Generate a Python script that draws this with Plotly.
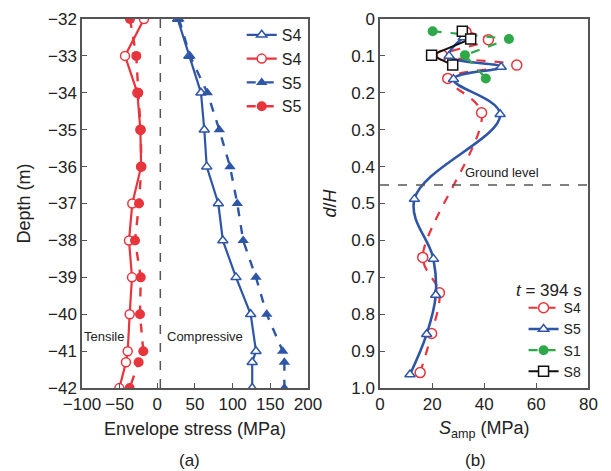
import plotly.graph_objects as go

# ---------------- Panel (a) data ----------------
depth = [-32, -33, -34, -35, -36, -37, -38, -39, -40, -41, -41.3, -42]
s4_comp = [27, 42, 58, 62.4, 65.6, 81, 87, 104.5, 124, 131, 126, 126]
s5_comp = [28.8, 43.4, 66.4, 82.3, 96.5, 106.2, 114, 131, 145.3, 166.5, 168.7, 168.7]
s4_tens = [-17.7, -42.9, -26.5, -22.5, -21.5, -33.2, -37.6, -33.6, -36.7, -39.3, -41.6, -50.4]
s5_tens = [-36.3, -27.9, -25.2, -22.0, -21.2, -24.3, -29.6, -22.0, -23.0, -18.6, -24.8, -36.7]
zero_line = 4

# ---------------- Panel (b) data ----------------
s4_d = [0.035, 0.056, 0.098, 0.125, 0.161, 0.254, 0.646, 0.742, 0.852, 0.958]
s4_s = [33.0, 41.6, 23.9, 52.5, 26.0, 39.0, 16.4, 22.8, 19.8, 15.4]
s5_d = [0.05, 0.10, 0.13, 0.163, 0.258, 0.488, 0.65, 0.748, 0.854, 0.963]
s5_s = [32.0, 26.5, 46.5, 28.2, 46.1, 13.2, 20.5, 21.4, 17.9, 11.5]
s1_d = [0.033, 0.054, 0.098, 0.161]
s1_s = [20.2, 49.5, 32.6, 40.6]
s8_d = [0.033, 0.054, 0.098, 0.125]
s8_s = [31.6, 34.8, 19.8, 27.9]
ground_level = 0.45
yb_ticks = [0, 0.1, 0.2, 0.3, 0.4, 0.5, 0.6, 0.7, 0.8, 0.9, 1.0]
yb_labels = ["0", "0.1", "0.2", "0.3", "0.4", "0.5", "0.6", "0.7", "0.8", "0.9", "1.0"]

RED = "#e8343c"
BLUE = "#2f56a6"
GREEN = "#2fa84a"
BLACK = "#111111"
FONT = "Liberation Sans, Arial, sans-serif"

fig = go.Figure()

# Panel (a)
fig.add_trace(go.Scatter(x=s4_comp, y=depth, name="S4", mode="lines+markers",
    line=dict(color=BLUE, width=2.2),
    marker=dict(symbol="triangle-up", size=9, color="white", line=dict(color=BLUE, width=1.5)),
    xaxis="x", yaxis="y", legend="legend"))
fig.add_trace(go.Scatter(x=s4_tens, y=depth, name="S4", mode="lines+markers",
    line=dict(color=RED, width=2.2),
    marker=dict(symbol="circle", size=9, color="white", line=dict(color=RED, width=1.5)),
    xaxis="x", yaxis="y", legend="legend"))
fig.add_trace(go.Scatter(x=s5_comp, y=depth, name="S5", mode="lines+markers",
    line=dict(color=BLUE, width=2.4, dash="dash"),
    marker=dict(symbol="triangle-up", size=10, color=BLUE),
    xaxis="x", yaxis="y", legend="legend"))
fig.add_trace(go.Scatter(x=s5_tens, y=depth, name="S5", mode="lines+markers",
    line=dict(color=RED, width=2.4, dash="dash"),
    marker=dict(symbol="circle", size=10, color=RED),
    xaxis="x", yaxis="y", legend="legend"))

# Panel (b)
fig.add_trace(go.Scatter(x=s4_s, y=s4_d, name="S4", mode="lines+markers",
    line=dict(color=RED, width=2.2, dash="dash", shape="spline", smoothing=0.9),
    marker=dict(symbol="circle", size=10, color="white", line=dict(color=RED, width=1.5)),
    xaxis="x2", yaxis="y2", legend="legend2"))
fig.add_trace(go.Scatter(x=s5_s, y=s5_d, name="S5", mode="lines+markers",
    line=dict(color=BLUE, width=2.6, shape="spline", smoothing=1.1),
    marker=dict(symbol="triangle-up", size=9, color="white", line=dict(color=BLUE, width=1.5)),
    xaxis="x2", yaxis="y2", legend="legend2"))
fig.add_trace(go.Scatter(x=s1_s, y=s1_d, name="S1", mode="lines+markers",
    line=dict(color=GREEN, width=2.2, dash="dash"),
    marker=dict(symbol="circle", size=10, color=GREEN),
    xaxis="x2", yaxis="y2", legend="legend2"))
fig.add_trace(go.Scatter(x=s8_s, y=s8_d, name="S8", mode="lines+markers",
    line=dict(color=BLACK, width=2),
    marker=dict(symbol="square", size=10, color="white", line=dict(color=BLACK, width=1.5)),
    xaxis="x2", yaxis="y2", legend="legend2"))

axis_common = dict(showline=True, linecolor="#555555", linewidth=1.5, mirror=True,
                   ticks="inside", ticklen=5, tickcolor="#555555", showgrid=False,
                   zeroline=False, automargin=False,
                   tickfont=dict(size=17, color="#222222", family=FONT))

fig.update_layout(
    width=611, height=471,
    margin=dict(l=0, r=0, t=0, b=0, autoexpand=False),
    paper_bgcolor="white", plot_bgcolor="white",
    font=dict(family=FONT, color="#222222"),
    xaxis=dict(domain=[0.1342, 0.504], range=[-100, 200], tickvals=[-100, -50, 0, 50, 100, 150, 200],
               title=dict(text="Envelope stress (MPa)", font=dict(size=18), standoff=9),
               anchor="y", **axis_common),
    yaxis=dict(domain=[0.176, 0.9597], range=[-42, -32], dtick=1,
               title=dict(text="Depth (m)", font=dict(size=18), standoff=13),
               anchor="x", **axis_common),
    xaxis2=dict(domain=[0.622, 0.963], range=[0, 80], dtick=20,
                title=dict(text="<i>S</i><sub>amp</sub> (MPa)", font=dict(size=18), standoff=8),
                anchor="y2", **axis_common),
    yaxis2=dict(domain=[0.176, 0.9597], range=[1.0, 0], tickvals=yb_ticks, ticktext=yb_labels,
                title=dict(text="<i>d</i>/<i>H</i>", font=dict(size=18), standoff=10),
                anchor="x2", **axis_common),
    legend=dict(x=0.502, xanchor="right", y=0.962, yanchor="top", bgcolor="rgba(0,0,0,0)",
                font=dict(size=16, color="#222222"), tracegroupgap=0),
    legend2=dict(x=0.96, xanchor="right", y=0.178, yanchor="bottom", bgcolor="rgba(0,0,0,0)",
                 font=dict(size=14, color="#222222"), tracegroupgap=0),
    showlegend=True,
)

fig.add_shape(type="line", xref="x", yref="y domain", x0=zero_line, x1=zero_line, y0=0, y1=1,
              line=dict(color="#555555", width=1.5, dash="dash"))
fig.add_shape(type="line", xref="x2 domain", yref="y2", x0=0, x1=1, y0=ground_level, y1=ground_level,
              line=dict(color="#555555", width=1.5, dash="dash"))

fig.add_annotation(text="Tensile", x=-71, y=-40.6, xref="x", yref="y", showarrow=False,
                   font=dict(size=13))
fig.add_annotation(text="Compressive", x=63, y=-40.6, xref="x", yref="y", showarrow=False,
                   font=dict(size=13))
fig.add_annotation(text="Ground level", x=47, y=0.417, xref="x2", yref="y2", showarrow=False,
                   font=dict(size=13))
fig.add_annotation(text="<i>t</i> = 394 s", x=0.955, xanchor="right", y=1 - 290 / 471,
                   yanchor="middle", xref="paper", yref="paper", showarrow=False,
                   font=dict(size=17))
fig.add_annotation(text="(a)", x=177 / 611, y=1 - 460 / 471, yanchor="middle",
                   xref="paper", yref="paper", showarrow=False, font=dict(size=17))
fig.add_annotation(text="(b)", x=488 / 611, y=1 - 460 / 471, yanchor="middle",
                   xref="paper", yref="paper", showarrow=False, font=dict(size=17))

fig.write_html("out.html")
